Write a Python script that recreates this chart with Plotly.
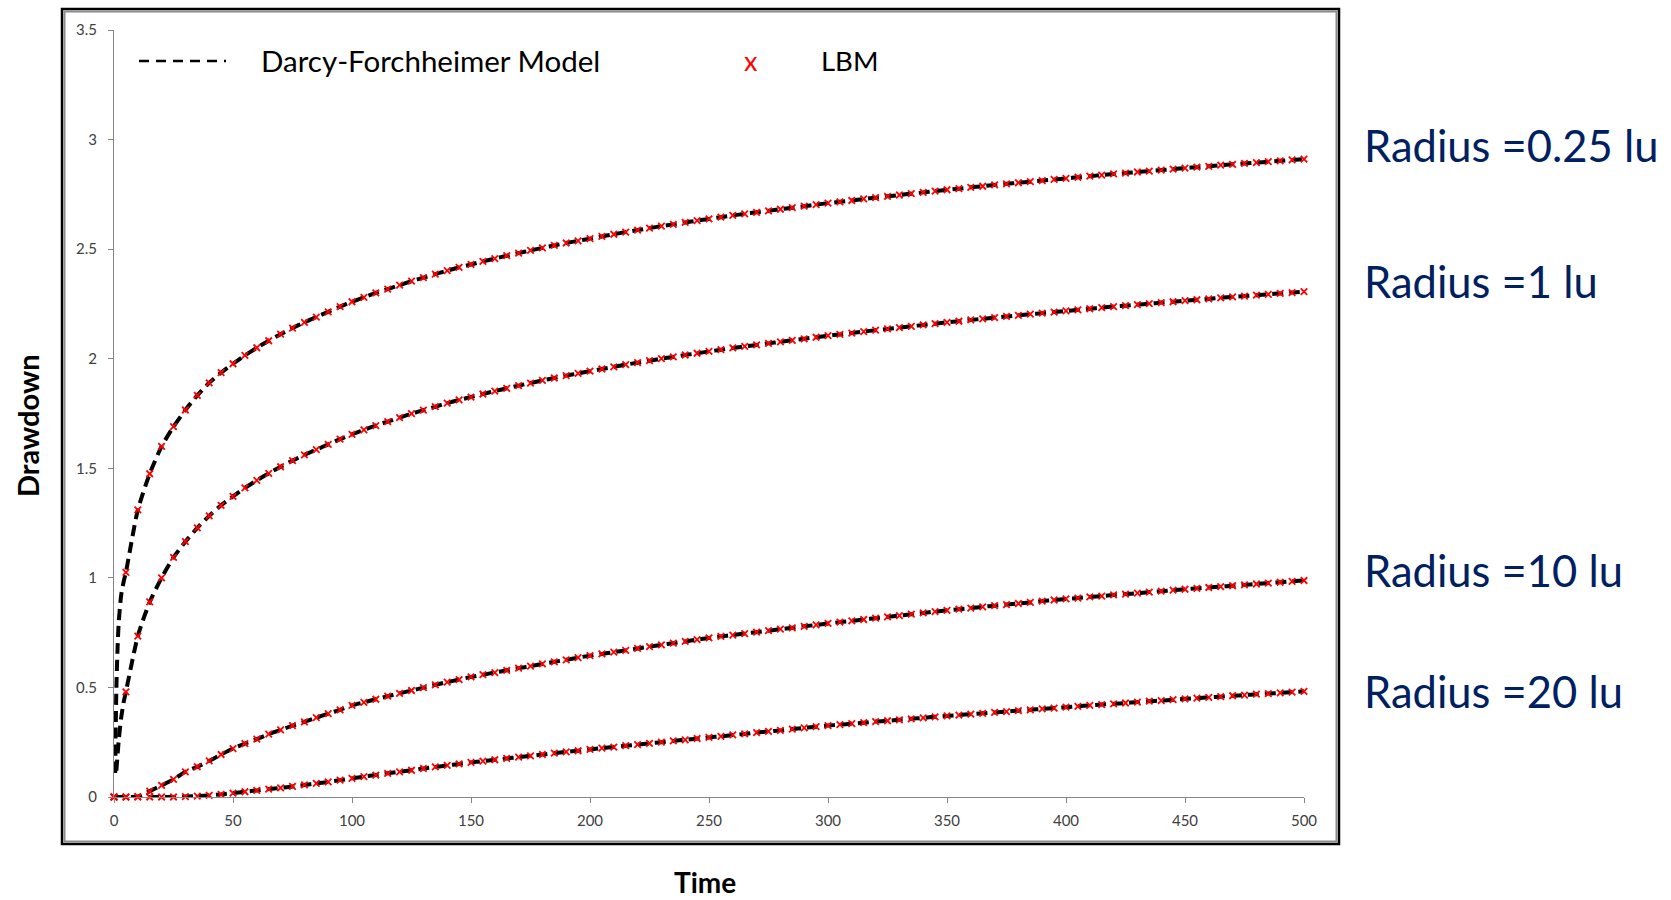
import plotly.graph_objects as go

# ---------------- data ----------------
time = [0, 5, 10, 15, 20, 25, 30, 35, 40, 45, 50, 55, 60, 65, 70, 75, 80, 85, 90, 95,
        100, 105, 110, 115, 120, 125, 130, 135, 140, 145, 150, 155, 160, 165, 170, 175,
        180, 185, 190, 195, 200, 205, 210, 215, 220, 225, 230, 235, 240, 245, 250, 255,
        260, 265, 270, 275, 280, 285, 290, 295, 300, 305, 310, 315, 320, 325, 330, 335,
        340, 345, 350, 355, 360, 365, 370, 375, 380, 385, 390, 395, 400, 405, 410, 415,
        420, 425, 430, 435, 440, 445, 450, 455, 460, 465, 470, 475, 480, 485, 490, 495, 500]

lbm_r025 = [0.0, 1.025, 1.31, 1.475, 1.60, 1.69, 1.766, 1.833, 1.89, 1.937,
            1.977, 2.015, 2.05, 2.082, 2.112, 2.14, 2.166, 2.19, 2.214, 2.238,
            2.26, 2.28, 2.30, 2.318, 2.336, 2.354, 2.37, 2.386, 2.402, 2.417,
            2.43, 2.444, 2.457, 2.47, 2.482, 2.494, 2.506, 2.517, 2.528, 2.538,
            2.548, 2.558, 2.568, 2.578, 2.587, 2.596, 2.605, 2.613, 2.622, 2.63,
            2.638, 2.646, 2.654, 2.661, 2.668, 2.675, 2.682, 2.689, 2.696, 2.703,
            2.71, 2.716, 2.722, 2.729, 2.735, 2.741, 2.747, 2.753, 2.759, 2.765,
            2.771, 2.776, 2.782, 2.787, 2.793, 2.798, 2.803, 2.808, 2.813, 2.818,
            2.823, 2.828, 2.833, 2.838, 2.843, 2.847, 2.852, 2.856, 2.861, 2.865,
            2.87, 2.874, 2.878, 2.883, 2.887, 2.891, 2.895, 2.899, 2.903, 2.907, 2.911]

lbm_r1 = [0.0, 0.48, 0.734, 0.89, 1.0, 1.093, 1.165, 1.228, 1.283, 1.331,
          1.372, 1.411, 1.445, 1.477, 1.507, 1.535, 1.561, 1.585, 1.609, 1.633,
          1.655, 1.675, 1.695, 1.713, 1.731, 1.749, 1.765, 1.781, 1.797, 1.812,
          1.825, 1.839, 1.852, 1.865, 1.877, 1.889, 1.901, 1.912, 1.923, 1.933,
          1.943, 1.953, 1.963, 1.973, 1.982, 1.991, 2.0, 2.008, 2.017, 2.025,
          2.033, 2.041, 2.049, 2.056, 2.063, 2.07, 2.077, 2.084, 2.091, 2.098,
          2.105, 2.111, 2.117, 2.124, 2.13, 2.136, 2.142, 2.148, 2.154, 2.16,
          2.166, 2.171, 2.177, 2.182, 2.188, 2.193, 2.198, 2.203, 2.208, 2.213,
          2.218, 2.223, 2.228, 2.233, 2.238, 2.242, 2.247, 2.251, 2.256, 2.26,
          2.265, 2.269, 2.273, 2.278, 2.282, 2.286, 2.29, 2.294, 2.298, 2.302, 2.306]

lbm_r10 = [0.0, 0.0, 0.002, 0.027, 0.053, 0.08, 0.115, 0.138, 0.165, 0.194,
           0.221, 0.244, 0.264, 0.287, 0.306, 0.326, 0.343, 0.362, 0.38, 0.398,
           0.418, 0.432, 0.446, 0.46, 0.473, 0.486, 0.499, 0.512, 0.524, 0.536,
           0.548, 0.558, 0.568, 0.578, 0.588, 0.597, 0.607, 0.617, 0.626, 0.636,
           0.645, 0.653, 0.661, 0.669, 0.678, 0.686, 0.694, 0.702, 0.71, 0.718,
           0.726, 0.733, 0.739, 0.746, 0.752, 0.759, 0.766, 0.772, 0.779, 0.785,
           0.792, 0.798, 0.804, 0.81, 0.816, 0.822, 0.828, 0.834, 0.84, 0.846,
           0.852, 0.857, 0.862, 0.868, 0.873, 0.878, 0.883, 0.888, 0.894, 0.899,
           0.904, 0.908, 0.913, 0.917, 0.922, 0.926, 0.93, 0.935, 0.939, 0.944,
           0.948, 0.952, 0.956, 0.96, 0.964, 0.968, 0.972, 0.976, 0.98, 0.984, 0.988]

lbm_r20 = [0.0, 0.0, 0.0, 0.0, 0.0, 0.0, 0.002, 0.004, 0.007, 0.012,
           0.018, 0.024, 0.03, 0.036, 0.042, 0.048, 0.055, 0.062, 0.069, 0.077,
           0.085, 0.093, 0.1, 0.108, 0.115, 0.122, 0.13, 0.137, 0.144, 0.151,
           0.158, 0.164, 0.17, 0.176, 0.182, 0.188, 0.194, 0.2, 0.206, 0.211,
           0.217, 0.223, 0.228, 0.234, 0.239, 0.245, 0.25, 0.256, 0.261, 0.267,
           0.272, 0.277, 0.283, 0.288, 0.294, 0.299, 0.304, 0.31, 0.315, 0.321,
           0.326, 0.33, 0.335, 0.339, 0.344, 0.348, 0.352, 0.357, 0.361, 0.366,
           0.37, 0.374, 0.378, 0.382, 0.386, 0.39, 0.394, 0.398, 0.402, 0.406,
           0.41, 0.414, 0.418, 0.422, 0.425, 0.429, 0.433, 0.437, 0.44, 0.444,
           0.448, 0.451, 0.455, 0.458, 0.462, 0.465, 0.469, 0.472, 0.475, 0.479, 0.482]

# early-time points of the Darcy-Forchheimer model curves (before t = 5)
model_early_t_r025 = [0.5, 0.75, 1, 1.5, 2, 3, 4]
model_early_r025 = [0.11, 0.33, 0.5, 0.68, 0.8, 0.92, 0.98]
model_early_t_r1 = [1, 2, 3, 4]
model_early_r1 = [0.12, 0.26, 0.36, 0.43]

radius_labels = ["Radius =0.25 lu", "Radius =1 lu", "Radius =10 lu", "Radius =20 lu"]
x_ticks = [0, 50, 100, 150, 200, 250, 300, 350, 400, 450, 500]
y_ticks = [0, 0.5, 1, 1.5, 2, 2.5, 3, 3.5]

# ---------------- figure ----------------
W, H = 1671, 900
L, R, T, B = 114, 1304, 30, 797  # plot-area pixel bounds


def px(xp):
    return (xp - L) / (R - L)


def py(yp):
    return (B - yp) / (B - T)


fig = go.Figure()

line_style = dict(color="black", width=4, dash="11px,6px", shape="spline", smoothing=0.6)
marker_style = dict(symbol="x-thin", size=6.5, color="red", line=dict(color="red", width=1.8))

model_curves = [
    (model_early_t_r025 + time[1:], model_early_r025 + lbm_r025[1:]),
    (model_early_t_r1 + time[1:], model_early_r1 + lbm_r1[1:]),
    (time, lbm_r10),
    (time, lbm_r20),
]
for tx, ty in model_curves:
    fig.add_trace(go.Scatter(x=tx, y=ty, mode="lines", line=line_style,
                             name="Darcy-Forchheimer Model", showlegend=False,
                             hoverinfo="skip"))

for ys in [lbm_r025, lbm_r1, lbm_r10, lbm_r20]:
    fig.add_trace(go.Scatter(x=time, y=ys, mode="markers", marker=marker_style,
                             name="LBM", showlegend=False, cliponaxis=False))

axis_font = dict(family="Lato, 'Open Sans', sans-serif", size=15, color="#404040")

fig.update_xaxes(range=[0, 500], tickvals=x_ticks, ticktext=[str(v) for v in x_ticks],
                 showgrid=False, zeroline=False, showline=True, linecolor="#868686",
                 linewidth=1, ticks="outside", ticklen=5, tickcolor="#868686",
                 tickfont=axis_font, ticklabelstandoff=5)
fig.update_yaxes(range=[0, 3.5], tickvals=y_ticks, ticktext=[f"{v:g}" for v in y_ticks],
                 showgrid=False, zeroline=False, showline=True, linecolor="#868686",
                 linewidth=1, ticks="outside", ticklen=5, tickcolor="#868686",
                 tickfont=axis_font, ticklabelstandoff=8)

shapes = []
# chart-area border (black outer, grey inner)
shapes.append(dict(type="rect", xref="paper", yref="paper",
                   x0=px(62), x1=px(1339), y0=py(844), y1=py(9),
                   line=dict(color="black", width=2.5), fillcolor="rgba(0,0,0,0)", layer="below"))
shapes.append(dict(type="rect", xref="paper", yref="paper",
                   x0=px(64.5), x1=px(1336.5), y0=py(841.5), y1=py(11.5),
                   line=dict(color="#8c8c8c", width=2), fillcolor="rgba(0,0,0,0)", layer="below"))
# legend dashed sample
shapes.append(dict(type="line", xref="paper", yref="paper",
                   x0=px(139), x1=px(226), y0=py(61), y1=py(61),
                   line=dict(color="black", width=2.5, dash="10px,7px")))

annotations = []
annotations.append(dict(xref="paper", yref="paper", x=px(259), y=py(60), text="Darcy-Forchheimer Model",
                        showarrow=False, xanchor="left", yanchor="middle",
                        font=dict(family="Lato, 'Open Sans', sans-serif", size=29.5, color="black")))
annotations.append(dict(xref="paper", yref="paper", x=px(751), y=py(60), text="x",
                        showarrow=False, xanchor="center", yanchor="middle",
                        font=dict(family="Lato, sans-serif", size=27, color="red")))
annotations.append(dict(xref="paper", yref="paper", x=px(819), y=py(60), text="LBM",
                        showarrow=False, xanchor="left", yanchor="middle",
                        font=dict(family="Lato, 'Open Sans', sans-serif", size=27.5, color="black")))

label_y = [145, 281, 570, 691]
for txt, yy in zip(radius_labels, label_y):
    annotations.append(dict(xref="paper", yref="paper", x=px(1362), y=py(yy), text=txt,
                            showarrow=False, xanchor="left", yanchor="middle",
                            font=dict(family="Lato, 'Open Sans', sans-serif", size=43.5, color="#002060")))

annotations.append(dict(xref="paper", yref="paper", x=px(705), y=py(882), text="<b>Time</b>",
                        showarrow=False, xanchor="center", yanchor="middle",
                        font=dict(family="Lato, 'Open Sans', sans-serif", size=28, color="black")))
annotations.append(dict(xref="paper", yref="paper", x=px(27), y=py(426), text="<b>Drawdown</b>",
                        showarrow=False, xanchor="center", yanchor="middle", textangle=-90,
                        font=dict(family="Lato, 'Open Sans', sans-serif", size=29, color="black")))

fig.update_layout(width=W, height=H, autosize=False,
                  margin=dict(l=L, r=W - R, t=T, b=H - B, pad=0),
                  paper_bgcolor="white", plot_bgcolor="white",
                  showlegend=False, shapes=shapes, annotations=annotations)

fig.write_html("out.html", include_plotlyjs=True, config={"displayModeBar": False})
